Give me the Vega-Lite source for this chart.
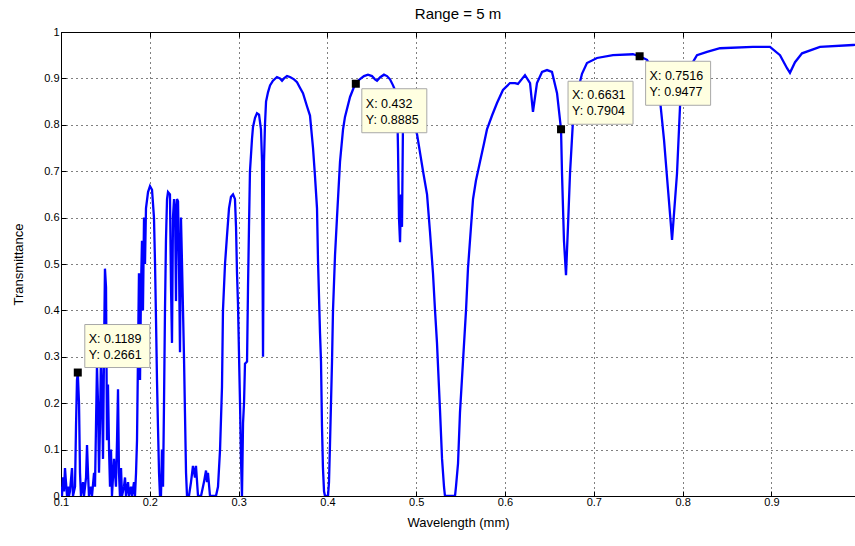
{
  "$schema": "https://vega.github.io/schema/vega-lite/v6.json",
  "width": 794,
  "height": 464,
  "autosize": {"type": "none"},
  "padding": {"left": 61, "top": 32, "right": 0, "bottom": 50},
  "background": "white",
  "title": {"text": "Range = 5 m", "fontSize": 15, "font": "Liberation Sans", "fontWeight": "normal", "color": "black", "offset": 4},
  "config": {
    "view": {"stroke": null},
    "font": "Liberation Sans",
    "axis": {
      "domainColor": "black",
      "tickColor": "black",
      "labelColor": "black",
      "titleColor": "black",
      "labelFontSize": 11,
      "titleFontSize": 13,
      "titleFontWeight": "normal",
      "labelFlush": false,
      "labelOverlap": false,
      "gridColor": "black",
      "gridDash": [1, 4],
      "gridOpacity": 1,
      "tickSize": -5
    }
  },
  "resolve": {"axis": {"x": "independent"}},
  "datasets": {
    "curve": [
      {"w":0.1000,"t":0.02},{"w":0.1011,"t":0.0},{"w":0.1023,"t":0.04},{"w":0.1034,"t":0.01},{"w":0.1045,"t":0.06},{"w":0.1056,"t":0.03},{"w":0.1068,"t":0.0},{"w":0.1079,"t":0.02},{"w":0.1090,"t":0.0},{"w":0.1101,"t":0.01},{"w":0.1124,"t":0.06},{"w":0.1135,"t":0.0},{"w":0.1158,"t":0.02},{"w":0.1169,"t":0.15},{"w":0.1180,"t":0.25},{"w":0.1189,"t":0.2661},{"w":0.1203,"t":0.2},{"w":0.1214,"t":0.05},{"w":0.1225,"t":0.0},{"w":0.1248,"t":0.03},{"w":0.1259,"t":0.0},{"w":0.1282,"t":0.04},{"w":0.1293,"t":0.11},{"w":0.1304,"t":0.05},{"w":0.1315,"t":0.0},{"w":0.1338,"t":0.02},{"w":0.1349,"t":0.0},{"w":0.1372,"t":0.05},{"w":0.1383,"t":0.02},{"w":0.1394,"t":0.15},{"w":0.1405,"t":0.28},{"w":0.1417,"t":0.2},{"w":0.1428,"t":0.05},{"w":0.1439,"t":0.15},{"w":0.1450,"t":0.3},{"w":0.1462,"t":0.22},{"w":0.1473,"t":0.08},{"w":0.1484,"t":0.3},{"w":0.1495,"t":0.49},{"w":0.1507,"t":0.45},{"w":0.1518,"t":0.12},{"w":0.1529,"t":0.24},{"w":0.1541,"t":0.1},{"w":0.1552,"t":0.02},{"w":0.1563,"t":0.1},{"w":0.1574,"t":0.0},{"w":0.1597,"t":0.08},{"w":0.1619,"t":0.02},{"w":0.1631,"t":0.12},{"w":0.1642,"t":0.23},{"w":0.1653,"t":0.05},{"w":0.1664,"t":0.0},{"w":0.1676,"t":0.06},{"w":0.1687,"t":0.0},{"w":0.1709,"t":0.02},{"w":0.1721,"t":0.04},{"w":0.1732,"t":0.0},{"w":0.1755,"t":0.03},{"w":0.1766,"t":0.0},{"w":0.1788,"t":0.02},{"w":0.1800,"t":0.0},{"w":0.1822,"t":0.03},{"w":0.1833,"t":0.0},{"w":0.1845,"t":0.05},{"w":0.1856,"t":0.12},{"w":0.1867,"t":0.3},{"w":0.1878,"t":0.48},{"w":0.1890,"t":0.25},{"w":0.1901,"t":0.45},{"w":0.1912,"t":0.55},{"w":0.1923,"t":0.4},{"w":0.1935,"t":0.6},{"w":0.1946,"t":0.5},{"w":0.1957,"t":0.62},{"w":0.1980,"t":0.655},{"w":0.2002,"t":0.668},{"w":0.2025,"t":0.66},{"w":0.2047,"t":0.6},{"w":0.2059,"t":0.5},{"w":0.2070,"t":0.38},{"w":0.2081,"t":0.25},{"w":0.2092,"t":0.15},{"w":0.2104,"t":0.05},{"w":0.2115,"t":0.0},{"w":0.2126,"t":0.0},{"w":0.2137,"t":0.1},{"w":0.2149,"t":0.02},{"w":0.2160,"t":0.2},{"w":0.2171,"t":0.4},{"w":0.2182,"t":0.55},{"w":0.2194,"t":0.64},{"w":0.2205,"t":0.655},{"w":0.2227,"t":0.65},{"w":0.2239,"t":0.45},{"w":0.2250,"t":0.33},{"w":0.2261,"t":0.6},{"w":0.2273,"t":0.64},{"w":0.2284,"t":0.62},{"w":0.2295,"t":0.42},{"w":0.2306,"t":0.64},{"w":0.2318,"t":0.635},{"w":0.2329,"t":0.5},{"w":0.2340,"t":0.31},{"w":0.2351,"t":0.6},{"w":0.2363,"t":0.5},{"w":0.2374,"t":0.4},{"w":0.2385,"t":0.3},{"w":0.2396,"t":0.18},{"w":0.2408,"t":0.05},{"w":0.2419,"t":0.0},
      {"w":0.2441,"t":0.0},{"w":0.2464,"t":0.03},{"w":0.2486,"t":0.065},{"w":0.2509,"t":0.04},{"w":0.2520,"t":0.065},{"w":0.2543,"t":0.0},{"w":0.2577,"t":0.0},{"w":0.2610,"t":0.03},{"w":0.2633,"t":0.055},{"w":0.2644,"t":0.03},{"w":0.2655,"t":0.05},{"w":0.2678,"t":0.0},{"w":0.2712,"t":0.0},{"w":0.2745,"t":0.0},{"w":0.2768,"t":0.02},{"w":0.2791,"t":0.1},{"w":0.2813,"t":0.235},{"w":0.2824,"t":0.4},{"w":0.2847,"t":0.5},{"w":0.2869,"t":0.56},{"w":0.2892,"t":0.62},{"w":0.2914,"t":0.645},{"w":0.2937,"t":0.65},{"w":0.2959,"t":0.64},{"w":0.2971,"t":0.58},{"w":0.2982,"t":0.48},{"w":0.2993,"t":0.415},{"w":0.3005,"t":0.3},{"w":0.3016,"t":0.2},{"w":0.3027,"t":0.08},{"w":0.3038,"t":0.0},{"w":0.3050,"t":0.157},{"w":0.3061,"t":0.2},{"w":0.3072,"t":0.285},{"w":0.3095,"t":0.29},{"w":0.3106,"t":0.45},{"w":0.3117,"t":0.58},{"w":0.3128,"t":0.70},{"w":0.3151,"t":0.77},{"w":0.3162,"t":0.795},{"w":0.3185,"t":0.815},{"w":0.3207,"t":0.825},{"w":0.3230,"t":0.822},{"w":0.3252,"t":0.79},{"w":0.3264,"t":0.72},{"w":0.3275,"t":0.30},{"w":0.3286,"t":0.72},{"w":0.3297,"t":0.8},{"w":0.3309,"t":0.85},{"w":0.3331,"t":0.87},{"w":0.3354,"t":0.885},{"w":0.3387,"t":0.895},{"w":0.3432,"t":0.903},{"w":0.3466,"t":0.9},{"w":0.3489,"t":0.895},{"w":0.3511,"t":0.9},{"w":0.3545,"t":0.905},{"w":0.3579,"t":0.903},{"w":0.3624,"t":0.898},{"w":0.3658,"t":0.892},{"w":0.3691,"t":0.88},{"w":0.3725,"t":0.868},{"w":0.3770,"t":0.84},{"w":0.3804,"t":0.82},{"w":0.3838,"t":0.75},{"w":0.3860,"t":0.69},{"w":0.3883,"t":0.62},{"w":0.3894,"t":0.51},{"w":0.3917,"t":0.35},{"w":0.3928,"t":0.29},{"w":0.3939,"t":0.15},{"w":0.3950,"t":0.06},{"w":0.3962,"t":0.01},{"w":0.3973,"t":0.0},{"w":0.3995,"t":0.0},{"w":0.4007,"t":0.0},{"w":0.4018,"t":0.03},{"w":0.4029,"t":0.11},{"w":0.4052,"t":0.29},{"w":0.4063,"t":0.40},{"w":0.4086,"t":0.52},{"w":0.4108,"t":0.60},{"w":0.4142,"t":0.72},{"w":0.4176,"t":0.79},{"w":0.4198,"t":0.817},{"w":0.4255,"t":0.86},{"w":0.4300,"t":0.882},{"w":0.4320,"t":0.8885},{"w":0.4345,"t":0.895},{"w":0.4378,"t":0.9},{"w":0.4412,"t":0.905},{"w":0.4457,"t":0.908},{"w":0.4502,"t":0.905},{"w":0.4536,"t":0.898},{"w":0.4559,"t":0.895},{"w":0.4592,"t":0.902},{"w":0.4637,"t":0.908},{"w":0.4671,"t":0.905},{"w":0.4705,"t":0.898},{"w":0.4739,"t":0.885},{"w":0.4761,"t":0.875},{"w":0.4784,"t":0.86},{"w":0.4795,"t":0.75},{"w":0.4806,"t":0.6},{"w":0.4818,"t":0.547},{"w":0.4829,"t":0.65},{"w":0.4840,"t":0.58},{"w":0.4851,"t":0.8},{"w":0.4874,"t":0.845},{"w":0.4908,"t":0.83},{"w":0.4941,"t":0.815},{"w":0.4975,"t":0.8},{"w":0.5009,"t":0.78},{"w":0.5043,"t":0.74},{"w":0.5077,"t":0.7},{"w":0.5122,"t":0.65},{"w":0.5155,"t":0.57},{"w":0.5189,"t":0.48},{"w":0.5212,"t":0.4},{"w":0.5234,"t":0.33},{"w":0.5268,"t":0.185},{"w":0.5291,"t":0.08},{"w":0.5313,"t":0.02},{"w":0.5324,"t":0.0},{"w":0.5381,"t":0.0},{"w":0.5437,"t":0.0},{"w":0.5448,"t":0.02},{"w":0.5471,"t":0.07},{"w":0.5493,"t":0.18},{"w":0.5527,"t":0.29},{"w":0.5561,"t":0.4},{"w":0.5583,"t":0.49},{"w":0.5617,"t":0.58},{"w":0.5640,"t":0.64},{"w":0.5673,"t":0.68},{"w":0.5718,"t":0.72},{"w":0.5764,"t":0.76},{"w":0.5797,"t":0.79},{"w":0.5854,"t":0.82},{"w":0.5910,"t":0.847},{"w":0.5977,"t":0.875},{"w":0.6056,"t":0.89},{"w":0.6113,"t":0.89},{"w":0.6146,"t":0.888},{"w":0.6225,"t":0.907},{"w":0.6282,"t":0.89},{"w":0.6315,"t":0.828},{"w":0.6360,"t":0.89},{"w":0.6417,"t":0.914},{"w":0.6473,"t":0.918},{"w":0.6529,"t":0.914},{"w":0.6586,"t":0.868},{"w":0.6631,"t":0.7904},{"w":0.6642,"t":0.695},{"w":0.6664,"t":0.55},{"w":0.6687,"t":0.476},{"w":0.6709,"t":0.58},{"w":0.6732,"t":0.695},{"w":0.6766,"t":0.81},{"w":0.6822,"t":0.875},{"w":0.6867,"t":0.91},{"w":0.6923,"t":0.933},{"w":0.7036,"t":0.944},{"w":0.7216,"t":0.95},{"w":0.7441,"t":0.952},{"w":0.7516,"t":0.9477},{"w":0.7599,"t":0.94},{"w":0.7689,"t":0.91},{"w":0.7746,"t":0.853},{"w":0.7791,"t":0.767},{"w":0.7836,"t":0.66},{"w":0.7870,"t":0.58},{"w":0.7881,"t":0.552},{"w":0.7892,"t":0.58},{"w":0.7937,"t":0.695},{"w":0.7971,"t":0.84},{"w":0.8005,"t":0.897},{"w":0.8084,"t":0.925},{"w":0.8162,"t":0.95},{"w":0.8275,"t":0.957},{"w":0.8421,"t":0.965},{"w":0.8792,"t":0.968},{"w":0.8984,"t":0.968},{"w":0.9097,"t":0.95},{"w":0.9176,"t":0.922},{"w":0.9209,"t":0.912},{"w":0.9266,"t":0.935},{"w":0.9345,"t":0.954},{"w":0.9547,"t":0.968},{"w":0.9919,"t":0.972},{"w":1.0,"t":0.973}
    ],
    "tips": [
      {"w": 0.1189, "t": 0.2661, "pos": "up"},
      {"w": 0.432, "t": 0.8885, "pos": "down"},
      {"w": 0.6631, "t": 0.7904, "pos": "up"},
      {"w": 0.7516, "t": 0.9477, "pos": "down"}
    ]
  },
  "layer": [
    {
      "data": {"name": "curve"},
      "mark": {"type": "line", "color": "#0000FF", "strokeWidth": 2.3, "clip": true},
      "encoding": {
        "x": {
          "field": "w", "type": "quantitative",
          "scale": {"domain": [0.1, 0.99414], "nice": false, "zero": false},
          "axis": {"orient": "bottom", "title": "Wavelength (mm)", "values": [0.1,0.2,0.3,0.4,0.5,0.6,0.7,0.8,0.9], "format": "~g", "grid": true, "labelPadding": 5, "titlePadding": 9}
        },
        "y": {
          "field": "t", "type": "quantitative",
          "scale": {"domain": [0, 1], "nice": false, "zero": false},
          "axis": {"orient": "left", "title": "Transmittance", "values": [0,0.1,0.2,0.3,0.4,0.5,0.6,0.7,0.8,0.9,1], "format": "~g", "grid": true, "labelPadding": 7, "titlePadding": 18}
        }
      }
    },
    {
      "data": {"name": "tips"},
      "mark": {"type": "point", "filled": true, "fill": "#FFFFE1", "stroke": "#A8A8A8", "strokeWidth": 1, "opacity": 1, "size": 400},
      "encoding": {
        "x": {"field": "w", "type": "quantitative",
          "axis": {"orient": "top", "labels": false, "title": null, "grid": false, "values": [0.1,0.2,0.3,0.4,0.5,0.6,0.7,0.8,0.9]}},
        "y": {"field": "t", "type": "quantitative"},
        "shape": {"field": "pos", "type": "nominal", "legend": null,
          "scale": {"domain": ["up", "down"], "range": ["M0.7,-4.8H7.2V-0.5H0.7Z", "M0.6,0.5H7.1V4.9H0.6Z"]}}
      }
    },
    {
      "data": {"name": "tips"},
      "mark": {"type": "square", "size": 64, "color": "black", "opacity": 1},
      "encoding": {
        "x": {"field": "w", "type": "quantitative", "axis": null},
        "y": {"field": "t", "type": "quantitative"}
      }
    },
    {
      "data": {"name": "tips"},
      "transform": [
        {"filter": "datum.pos === 'up'"},
        {"calculate": "'X: ' + datum.w + '\\nY: ' + datum.t", "as": "lbl"}
      ],
      "mark": {"type": "text", "align": "left", "baseline": "alphabetic", "dx": 11, "dy": -30, "fontSize": 12.5, "lineBreak": "\n", "lineHeight": 16, "color": "black"},
      "encoding": {
        "x": {"field": "w", "type": "quantitative", "axis": null},
        "y": {"field": "t", "type": "quantitative"},
        "text": {"field": "lbl"}
      }
    },
    {
      "data": {"name": "tips"},
      "transform": [
        {"filter": "datum.pos === 'down'"},
        {"calculate": "'X: ' + datum.w + '\\nY: ' + datum.t", "as": "lbl"}
      ],
      "mark": {"type": "text", "align": "left", "baseline": "alphabetic", "dx": 10, "dy": 24, "fontSize": 12.5, "lineBreak": "\n", "lineHeight": 16, "color": "black"},
      "encoding": {
        "x": {"field": "w", "type": "quantitative", "axis": null},
        "y": {"field": "t", "type": "quantitative"},
        "text": {"field": "lbl"}
      }
    }
  ]
}
